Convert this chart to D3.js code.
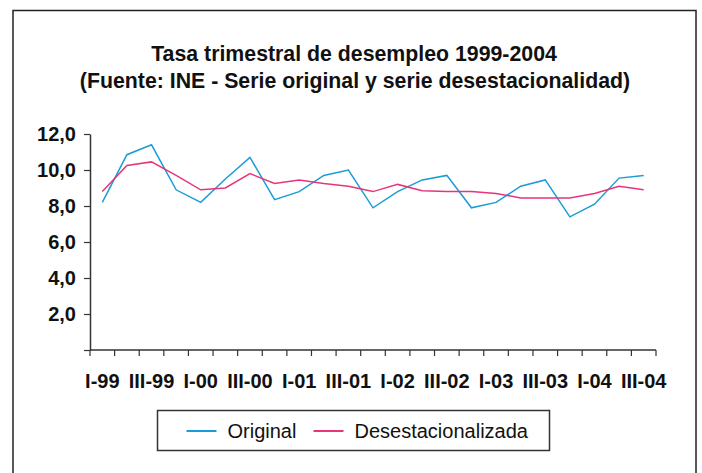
<!DOCTYPE html>
<html>
<head>
<meta charset="utf-8">
<script src="https://cdn.jsdelivr.net/npm/d3@7"></script>
<style>
  body { margin: 0; background: #fff; }
  svg { display: block; font-family: "Liberation Sans", Arial, sans-serif; }
</style>
</head>
<body>
<svg width="702" height="473"></svg>
<script>
// quarters I-99 .. III-04
var quarters = ["I-99","II-99","III-99","IV-99","I-00","II-00","III-00","IV-00",
  "I-01","II-01","III-01","IV-01","I-02","II-02","III-02","IV-02",
  "I-03","II-03","III-03","IV-03","I-04","II-04","III-04"];

var original = [8.2, 10.85, 11.4, 8.9, 8.2, 9.5, 10.7, 8.35, 8.8, 9.7, 10.0, 7.9,
  8.8, 9.45, 9.7, 7.9, 8.2, 9.1, 9.45, 7.4, 8.1, 9.55, 9.7];

var desest = [8.8, 10.25, 10.45, 9.7, 8.9, 9.0, 9.8, 9.25, 9.45, 9.25, 9.1, 8.8,
  9.2, 8.85, 8.8, 8.8, 8.7, 8.45, 8.45, 8.45, 8.7, 9.1, 8.9];

var yTicks = [2, 4, 6, 8, 10, 12];
var seriesNames = ["Original", "Desestacionalizada"];
var colors = ["#1b9cd8", "#e8357a"];

var svg = d3.select("svg"),
	margin = {top: 134, right: 46, bottom: 123, left: 90},
	width = 656 - margin.left,
	height = 350 - margin.top,
	g = svg.append("g").attr("transform", "translate(" + margin.left + "," + margin.top + ")");

// outer frame
svg.append("rect")
	.attr("x", 13).attr("y", 10.5)
	.attr("width", 683).attr("height", 480)
	.attr("fill", "none")
	.attr("stroke", "#222")
	.attr("stroke-width", 1.5);

// title
var title = svg.append("text")
	.attr("text-anchor", "middle")
	.attr("font-weight", "bold")
	.attr("font-size", 21.3)
	.attr("fill", "#111");
title.append("tspan").attr("x", 354).attr("y", 61).text("Tasa trimestral de desempleo 1999-2004");
title.append("tspan").attr("x", 355).attr("y", 88).text("(Fuente: INE - Serie original y serie desestacionalidad)");

var x = d3.scaleBand()
	.domain(quarters)
	.range([0, width]);

var y = d3.scaleLinear()
	.domain([0, 12])
	.range([height, 0]);

// y axis
var yAxis = g.append("g")
	.call(d3.axisLeft(y).tickValues([0].concat(yTicks)).tickSize(6).tickSizeOuter(0)
		.tickFormat(function(d) { return d === 0 ? "" : d3.format(".1f")(d).replace(".", ","); }));
yAxis.select(".domain").attr("stroke", "#333").attr("stroke-width", 1.5);
yAxis.selectAll(".tick line").attr("stroke", "#333").attr("stroke-width", 1.2);
yAxis.selectAll(".tick text")
	.attr("x", -14)
	.attr("font-family", "Liberation Sans, Arial, sans-serif")
	.attr("font-size", 20)
	.attr("font-weight", "bold")
	.attr("fill", "#111");

// x axis: ticks at band boundaries, labels every other quarter
var xAxis = g.append("g").attr("transform", "translate(0," + height + ")");
xAxis.append("line")
	.attr("x1", 0).attr("x2", width)
	.attr("stroke", "#333").attr("stroke-width", 1.5);
xAxis.selectAll(".qtick")
	.data(quarters.concat(["end"]))
	.enter().append("line")
		.attr("class", "qtick")
		.attr("x1", function(d, i) { return i * x.step(); })
		.attr("x2", function(d, i) { return i * x.step(); })
		.attr("y1", 0).attr("y2", 6)
		.attr("stroke", "#333").attr("stroke-width", 1.2);
xAxis.selectAll(".qlabel")
	.data(quarters.filter(function(d, i) { return i % 2 === 0; }))
	.enter().append("text")
		.attr("class", "qlabel")
		.attr("x", function(d) { return x(d) + x.bandwidth() / 2; })
		.attr("y", 38)
		.attr("text-anchor", "middle")
		.attr("font-size", 20)
		.attr("font-weight", "bold")
		.attr("fill", "#111")
		.text(function(d) { return d; });

// lines
var line = d3.line()
	.x(function(d, i) { return x(quarters[i]) + x.bandwidth() / 2; })
	.y(function(d) { return y(d); });

[original, desest].forEach(function(s, k) {
	g.append("path")
		.datum(s)
		.attr("fill", "none")
		.attr("stroke", colors[k])
		.attr("stroke-width", 1.5)
		.attr("d", line);
});

// legend
var legend = svg.append("g").attr("transform", "translate(157.5,410.5)");
legend.append("rect")
	.attr("width", 392).attr("height", 40)
	.attr("fill", "none")
	.attr("stroke", "#333")
	.attr("stroke-width", 1.5);
var legX = [29, 156];
var item = legend.selectAll(".item")
	.data(seriesNames)
	.enter().append("g")
		.attr("transform", function(d, i) { return "translate(" + legX[i] + ",0)"; });
item.append("line")
	.attr("x1", 0).attr("x2", 30)
	.attr("y1", 20.5).attr("y2", 20.5)
	.attr("stroke", function(d, i) { return colors[i]; })
	.attr("stroke-width", 2);
item.append("text")
	.attr("x", 41).attr("y", 27.5)
	.attr("font-size", 20)
	.attr("fill", "#111")
	.text(function(d) { return d; });
</script>
</body>
</html>
